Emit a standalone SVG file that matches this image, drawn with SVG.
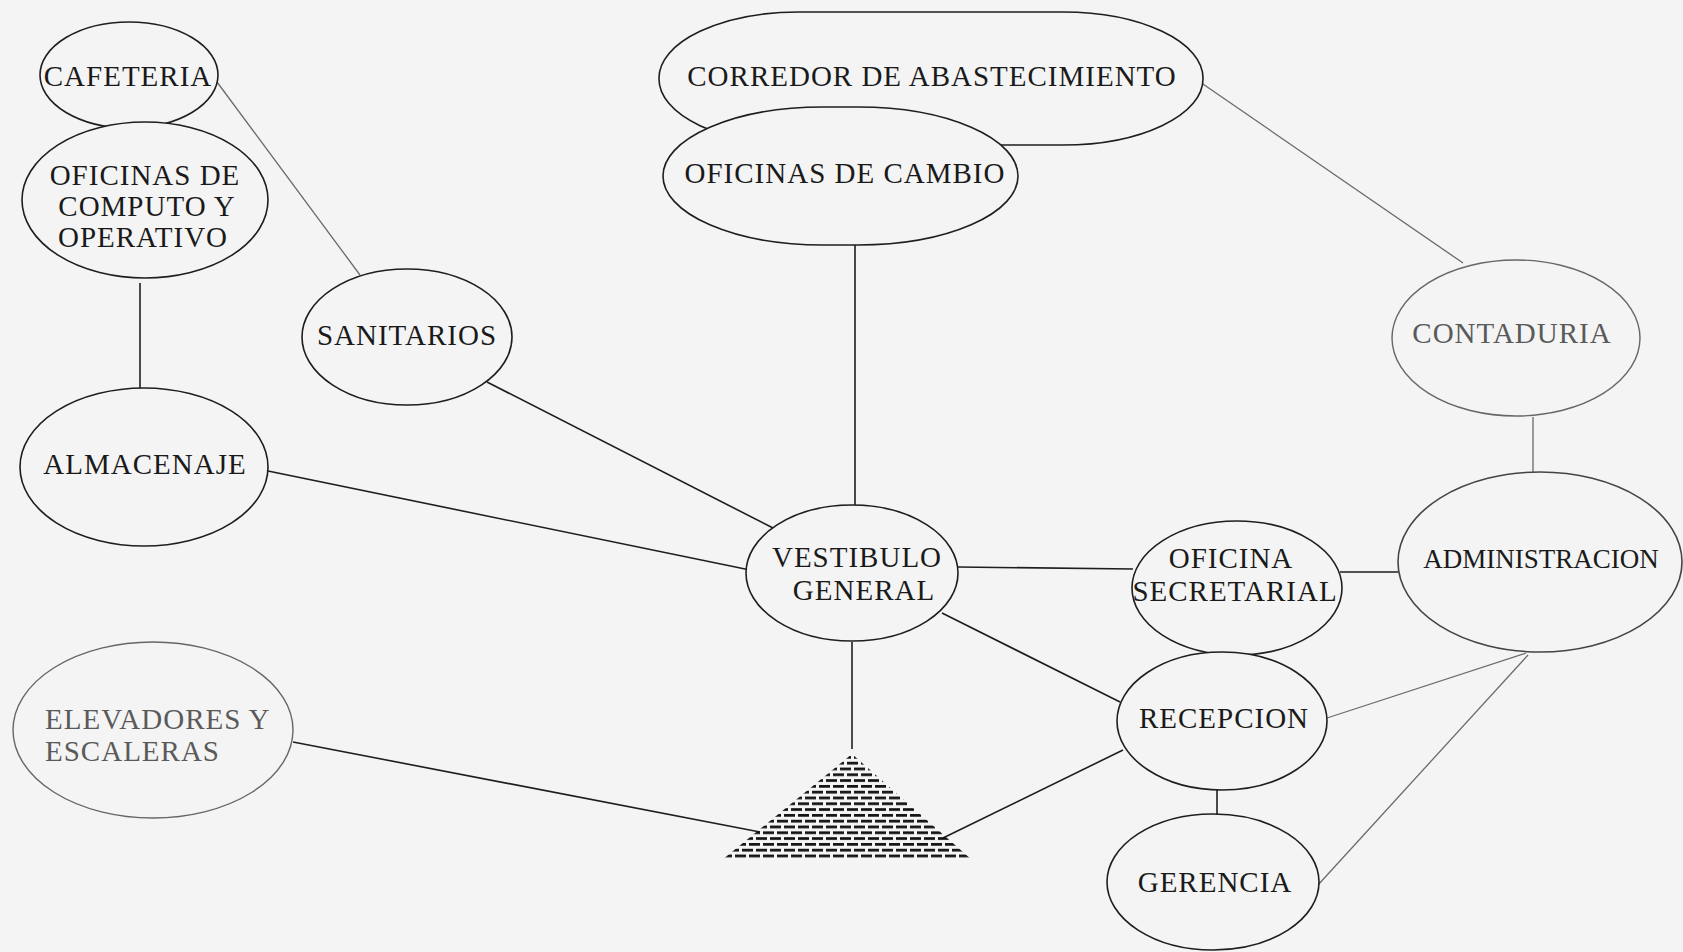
<svg xmlns="http://www.w3.org/2000/svg" width="1683" height="952" viewBox="0 0 1683 952">
<defs>
<style>
.bg{fill:#f4f4f4}
.n{fill:#f4f4f4;stroke:#1e1e1e;stroke-width:1.6}
.g{fill:#f4f4f4;stroke:#666;stroke-width:1.4}
.t{font-family:"Liberation Serif","Times New Roman",serif;font-size:29px;letter-spacing:1px;fill:#1a1a1a;text-anchor:middle}
.tg{fill:#5a5a5a}
.c line{stroke:#1e1e1e;stroke-width:1.6}
.c line.l{stroke:#6a6a6a;stroke-width:1.3}
</style>
<pattern id="brick" patternUnits="userSpaceOnUse" x="0" y="755" width="14" height="11.6">
<rect x="0" y="1" width="11" height="2.7" fill="#111"/>
<rect x="7" y="6.8" width="11" height="2.7" fill="#111"/>
<rect x="-7" y="6.8" width="11" height="2.7" fill="#111"/>
</pattern>
</defs>
<rect class="bg" x="0" y="0" width="1683" height="952"/>
<g id="connectors" class="c">
<line x1="140" y1="283" x2="140" y2="388"/>
<line class="l" x1="217" y1="82" x2="360" y2="275"/>
<line x1="268" y1="471" x2="750" y2="570"/>
<line x1="487" y1="382" x2="773" y2="528"/>
<line x1="855" y1="245" x2="855" y2="505"/>
<line x1="852" y1="642" x2="852" y2="749"/>
<line x1="293" y1="742" x2="760" y2="832"/>
<line x1="1123" y1="750" x2="943" y2="838"/>
<line x1="958" y1="567" x2="1133" y2="569"/>
<line x1="942" y1="613" x2="1120" y2="702"/>
<line x1="1340" y1="572" x2="1398" y2="572"/>
<line class="l" x1="1200" y1="82" x2="1463" y2="263"/>
<line class="l" x1="1533" y1="417" x2="1533" y2="472"/>
<line class="l" x1="1327" y1="718" x2="1526" y2="653"/>
<line class="l" x1="1318" y1="885" x2="1528" y2="655"/>
<line x1="1217" y1="788" x2="1217" y2="815"/>
</g>
<g id="cafeteria">
<ellipse class="n" cx="129" cy="75" rx="89" ry="53"/>
<text class="t" x="128" y="86">CAFETERIA</text>
</g>
<g id="oficinas-computo">
<ellipse class="n" cx="145" cy="200" rx="123" ry="78"/>
<text class="t" x="145" y="185">OFICINAS DE</text>
<text class="t" x="147" y="216">COMPUTO Y</text>
<text class="t" x="143" y="247">OPERATIVO</text>
</g>
<g id="almacenaje">
<ellipse class="n" cx="144" cy="467" rx="124" ry="79"/>
<text class="t" x="145" y="474">ALMACENAJE</text>
</g>
<g id="sanitarios">
<ellipse class="n" cx="407" cy="337" rx="105" ry="68"/>
<text class="t" x="407" y="345">SANITARIOS</text>
</g>
<g id="elevadores">
<ellipse class="g" cx="153" cy="730" rx="140" ry="88"/>
<text class="t tg" x="45" y="729" style="text-anchor:start">ELEVADORES Y</text>
<text class="t tg" x="45" y="761" style="text-anchor:start">ESCALERAS</text>
</g>
<g id="corredor">
<rect class="n" x="659" y="12" width="544" height="133" rx="140" ry="66"/>
<text class="t" x="932" y="86">CORREDOR DE ABASTECIMIENTO</text>
</g>
<g id="oficinas-cambio">
<rect class="n" x="663" y="107" width="355" height="138" rx="160" ry="69"/>
<text class="t" x="845" y="183">OFICINAS DE CAMBIO</text>
</g>
<g id="vestibulo">
<ellipse class="n" cx="852" cy="573" rx="106" ry="68"/>
<text class="t" x="857" y="567">VESTIBULO</text>
<text class="t" x="864" y="600">GENERAL</text>
</g>
<g id="acceso">
<polygon points="852,754 972,860 722,860" fill="url(#brick)"/>
</g>
<g id="contaduria">
<ellipse class="g" cx="1516" cy="338" rx="124" ry="78"/>
<text class="t tg" x="1512" y="343">CONTADURIA</text>
</g>
<g id="administracion">
<ellipse class="n" cx="1540" cy="562" rx="142" ry="90" style="stroke:#444"/>
<text class="t" x="1541" y="568" style="font-size:27px;letter-spacing:0">ADMINISTRACION</text>
</g>
<g id="secretarial">
<ellipse class="n" cx="1237" cy="588" rx="105" ry="67"/>
<text class="t" x="1231" y="568">OFICINA</text>
<text class="t" x="1235" y="601">SECRETARIAL</text>
</g>
<g id="recepcion">
<ellipse class="n" cx="1222" cy="721" rx="105" ry="69"/>
<text class="t" x="1224" y="728">RECEPCION</text>
</g>
<g id="gerencia">
<ellipse class="n" cx="1213" cy="882" rx="106" ry="68"/>
<text class="t" x="1215" y="892">GERENCIA</text>
</g>
</svg>
